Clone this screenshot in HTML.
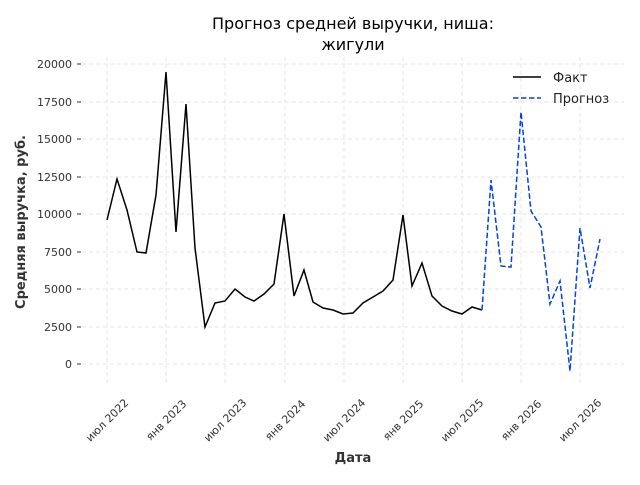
<!DOCTYPE html>
<html><head><meta charset="utf-8"><style>body{margin:0;background:#fff}svg{font-family:"DejaVu Sans",sans-serif}</style></head>
<body><svg width="640" height="480" viewBox="0 0 640 480" xmlns="http://www.w3.org/2000/svg">
<g stroke="#e6e6e6" stroke-dasharray="4,3" stroke-width="1">
<line x1="82" x2="624" y1="64" y2="64"/><line x1="82" x2="624" y1="102" y2="102"/><line x1="82" x2="624" y1="139" y2="139"/><line x1="82" x2="624" y1="177" y2="177"/><line x1="82" x2="624" y1="214" y2="214"/><line x1="82" x2="624" y1="252" y2="252"/><line x1="82" x2="624" y1="289" y2="289"/><line x1="82" x2="624" y1="327" y2="327"/><line x1="82" x2="624" y1="364" y2="364"/>
<line y1="57" y2="384" x1="107" x2="107"/><line y1="57" y2="384" x1="166" x2="166"/><line y1="57" y2="384" x1="225" x2="225"/><line y1="57" y2="384" x1="285" x2="285"/><line y1="57" y2="384" x1="344" x2="344"/><line y1="57" y2="384" x1="403" x2="403"/><line y1="57" y2="384" x1="462" x2="462"/><line y1="57" y2="384" x1="521" x2="521"/><line y1="57" y2="384" x1="580" x2="580"/>
</g>
<g stroke="#333" stroke-width="1">
<line x1="77" x2="81" y1="64" y2="64"/><line x1="77" x2="81" y1="102" y2="102"/><line x1="77" x2="81" y1="139" y2="139"/><line x1="77" x2="81" y1="177" y2="177"/><line x1="77" x2="81" y1="214" y2="214"/><line x1="77" x2="81" y1="252" y2="252"/><line x1="77" x2="81" y1="289" y2="289"/><line x1="77" x2="81" y1="327" y2="327"/><line x1="77" x2="81" y1="364" y2="364"/>
</g>
<g font-size="11" fill="#333" text-anchor="end">
<text x="72" y="68">20000</text><text x="72" y="106">17500</text><text x="72" y="143">15000</text><text x="72" y="181">12500</text><text x="72" y="218">10000</text><text x="72" y="256">7500</text><text x="72" y="293">5000</text><text x="72" y="331">2500</text><text x="72" y="368">0</text>
</g>
<g font-size="11" fill="#333" text-anchor="middle">
<text transform="translate(107,420) rotate(-45)" dy="4">июл 2022</text><text transform="translate(166,420) rotate(-45)" dy="4">янв 2023</text><text transform="translate(225,420) rotate(-45)" dy="4">июл 2023</text><text transform="translate(285,420) rotate(-45)" dy="4">янв 2024</text><text transform="translate(344,420) rotate(-45)" dy="4">июл 2024</text><text transform="translate(403,420) rotate(-45)" dy="4">янв 2025</text><text transform="translate(462,420) rotate(-45)" dy="4">июл 2025</text><text transform="translate(521,420) rotate(-45)" dy="4">янв 2026</text><text transform="translate(580,420) rotate(-45)" dy="4">июл 2026</text>
</g>
<polyline fill="none" stroke="#000" stroke-width="1.5" points="107,220 117,179 127,210 137,252 146,253 156,195 166,72 176,232 186,104 195,248 205,327 215,303 225,301 235,289 245,297 254,301 264,294 274,284 284,214 294,296 304,270 313,302 323,308 333,310 343,314 353,313 363,303 373,297 383,291 393,280 403,215 412,286 422,263 432,296 442,306 452,311 462,314 472,307 482,310"/>
<polyline fill="none" stroke="#0343df" stroke-width="1.5" stroke-dasharray="5.5,2.5" points="482,310 491,180 501,266 511,267 521,112 531,211 541,227 550,304 560,281 570,371 580,228 590,288 600,239"/>
<line x1="513" x2="541" y1="77" y2="77" stroke="#000" stroke-width="1.5"/>
<line x1="513" x2="541" y1="98" y2="98" stroke="#0343df" stroke-width="1.5" stroke-dasharray="5.5,2.5"/>
<text x="553" y="82" font-size="13" fill="#222">Факт</text>
<text x="553" y="103" font-size="13" fill="#222">Прогноз</text>
<text x="353" y="29" font-size="16" text-anchor="middle" fill="#000">Прогноз средней выручки, ниша:</text>
<text x="353" y="50" font-size="16" text-anchor="middle" fill="#000">жигули</text>
<text x="353" y="462" font-size="13" font-weight="bold" text-anchor="middle" fill="#333">Дата</text>
<text transform="translate(25,222) rotate(-90)" font-size="13" font-weight="bold" text-anchor="middle" fill="#333">Средняя выручка, руб.</text>
</svg></body></html>
